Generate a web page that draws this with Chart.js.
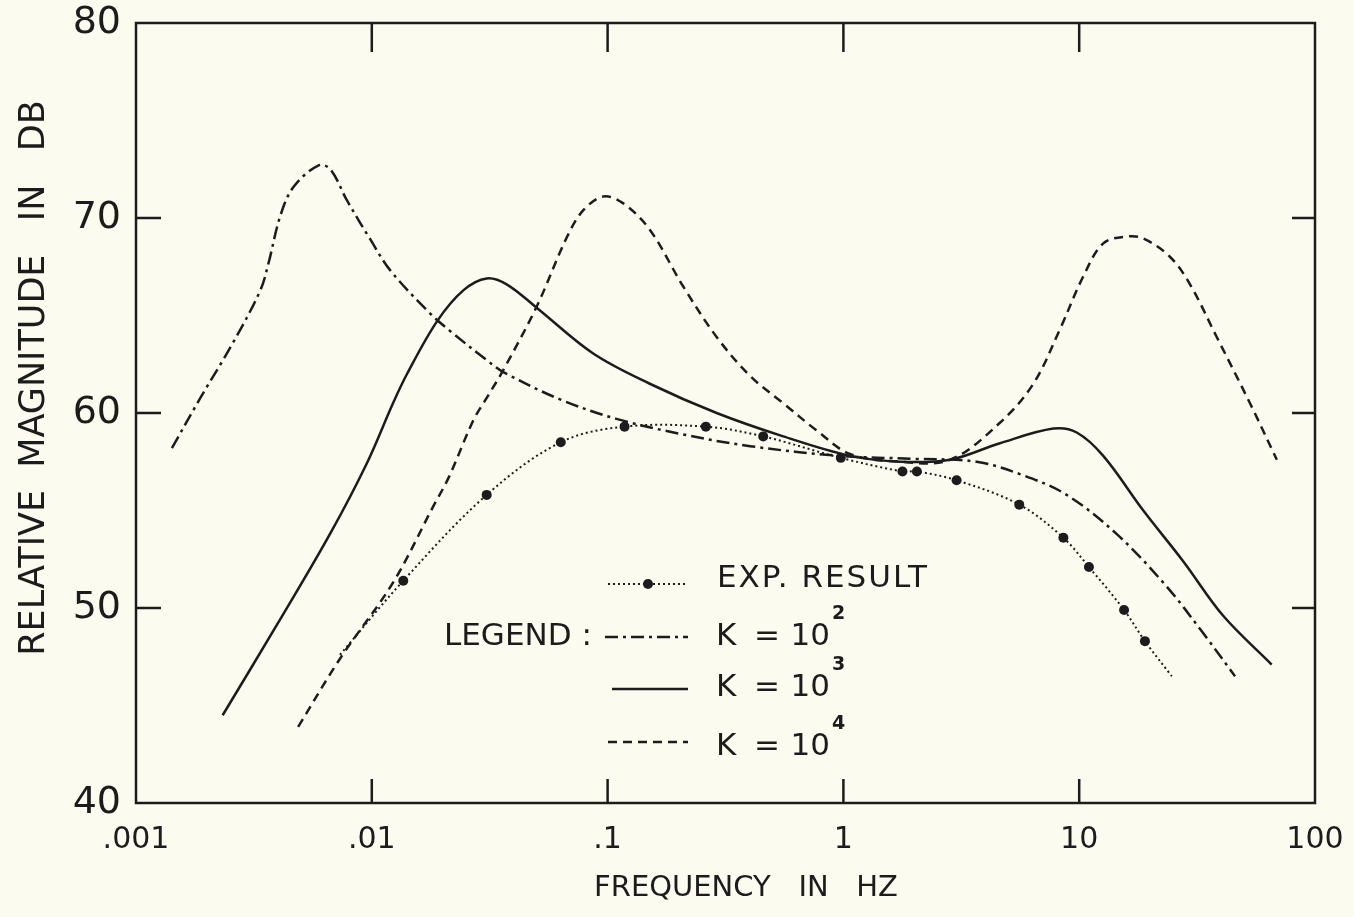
<!DOCTYPE html>
<html><head><meta charset="utf-8">
<script src="https://cdn.jsdelivr.net/npm/chart.js@4.4.1/dist/chart.umd.min.js"></script>
<style>
html,body{margin:0;padding:0;background:#fcfbef;}
#wrap{width:1354px;height:917px;position:relative;overflow:hidden;}
canvas{display:block;}
</style></head><body>
<div id="wrap"><canvas id="c" width="1354" height="917"></canvas></div>
<script>
// ---- tick labels ----
const xTickValues = [0.001, 0.01, 0.1, 1, 10, 100];
const xTickLabels = ['.001', '.01', '.1', '1', '10', '100'];
const yTickValues = [40, 50, 60, 70, 80];
const yTickLabels = ['40', '50', '60', '70', '80'];

// ---- EXP. RESULT (dotted with markers; first/last are curve ends) ----
const expFreq = [0.00733, 0.0136, 0.0307, 0.0633, 0.118, 0.261, 0.457, 0.975, 1.78, 2.05, 3.02, 5.57, 8.57, 11.0, 15.5, 19.0, 24.7];
const expDb   = [47.6,    51.4,   55.8,   58.5,   59.3,  59.3,  58.8,  57.7,  57.0, 57.0, 56.55, 55.3, 53.6, 52.1, 49.9, 48.3, 46.5];

// ---- K = 10^2 (dash-dot) ----
const k2Freq = [0.00142, 0.00188, 0.00255, 0.00337, 0.00365, 0.00409, 0.00466, 0.00595, 0.00667, 0.00785, 0.00986, 0.0120, 0.0177, 0.0215, 0.0308, 0.0361, 0.0628, 0.109, 0.209, 0.402, 0.968, 2.0, 3.67, 5.8, 8.85, 14.4, 23.5, 33.6, 45.8];
const k2Db   = [58.2,    60.8,    63.5,    66.3,    67.7,    70.1,    71.6,    72.7,    72.5,    70.9,    68.9,    67.3,   65.1,   64.2,   62.7,   62.1,   60.7,   59.7,  58.9,  58.3,  57.8,  57.65, 57.5, 56.8, 55.8, 53.8, 51.1, 48.7, 46.5];

// ---- K = 10^3 (solid) ----
const k3Freq = [0.00233, 0.00408, 0.00665, 0.00951, 0.0123, 0.0141, 0.0189, 0.0245, 0.0307, 0.0373, 0.050, 0.0869, 0.151, 0.290, 0.556, 1.067, 1.74, 2.83, 4.61, 7.77, 9.76, 12.65, 18.7, 27.6, 40.8, 65.5];
const k3Db   = [44.5,    49.4,    53.8,    57.4,    60.5,   62.0,   64.7,   66.3,   66.9,   66.6,   65.4,  63.05,  61.5,  60.0,  58.8,  57.8,  57.5, 57.6, 58.45, 59.2, 59.0, 57.8, 55.0, 52.4, 49.6, 47.1];

// ---- K = 10^4 (dashed) ----
const k4Freq = [0.00487, 0.00733, 0.0123, 0.0182, 0.0212, 0.0269, 0.0308, 0.0361, 0.050, 0.0671, 0.0789, 0.0959, 0.1166, 0.151, 0.209, 0.290, 0.402, 0.556, 0.771, 1.067, 1.74, 2.83, 4.61, 6.39, 8.29, 10.4, 12.65, 15.9, 18.7, 24.3, 29.5, 38.3, 53.0, 68.9];
const k4Db   = [43.9,    47.4,    51.3,   55.2,   56.7,   59.6,   60.8,   62.2,   65.45, 69.0,   70.4,   71.1,   70.75,  69.4,  66.5,  63.9,  61.9,  60.5,  59.1,  57.9,  57.5, 57.6, 59.5, 61.5, 64.3, 67.0, 68.7, 69.05, 68.95, 68.0, 66.6, 63.9, 60.5, 57.6];

const INK = '#1c1c1c';
const BG = '#fcfbef';
const FONT = "'DejaVu Sans', 'Liberation Sans', sans-serif";

const pts = (xs, ys) => xs.map((x, i) => ({x: x, y: ys[i]}));

const DASHDOT = [13, 5, 3, 5];
const DASHED = [9, 6];
const DOTTED = [2, 3];

const paper = {
  id: 'paper',
  beforeDraw(chart) {
    const c = chart.ctx;
    c.save();
    c.fillStyle = BG;
    c.fillRect(0, 0, chart.width, chart.height);
    c.restore();
  },
  afterDatasetsDraw(chart) {
    const c = chart.ctx, a = chart.chartArea;
    const xs = chart.scales.x, ys = chart.scales.y;
    c.save();
    c.strokeStyle = INK;
    c.lineWidth = 2.5;
    c.setLineDash([]);
    c.strokeRect(a.left, a.top, a.right - a.left, a.bottom - a.top);
    // inward ticks
    xTickValues.slice(1, -1).forEach(v => {
      const px = xs.getPixelForValue(v);
      c.beginPath();
      c.moveTo(px, a.bottom); c.lineTo(px, a.bottom - 24);
      c.moveTo(px, a.top); c.lineTo(px, a.top + 29);
      c.stroke();
    });
    yTickValues.slice(1, -1).forEach(v => {
      const py = ys.getPixelForValue(v);
      c.beginPath();
      c.moveTo(a.left, py); c.lineTo(a.left + 25, py);
      c.moveTo(a.right, py); c.lineTo(a.right - 23, py);
      c.stroke();
    });

    // axis titles
    c.fillStyle = INK;
    c.font = '29px ' + FONT;
    c.textAlign = 'center';
    c.textBaseline = 'middle';
    c.fillText('FREQUENCY   IN   HZ', 746, 888);
    c.save();
    c.translate(35, 378);
    c.rotate(-Math.PI / 2);
    c.font = '35px ' + FONT;
    c.fillText('RELATIVE  MAGNITUDE   IN   DB', 0, 0);
    c.restore();

    // legend
    const sample = (x0, x1, y, dash, w) => {
      c.beginPath();
      c.setLineDash(dash);
      c.lineWidth = w;
      c.moveTo(x0, y); c.lineTo(x1, y);
      c.stroke();
    };
    sample(608, 688, 584, DOTTED, 2);
    c.beginPath(); c.arc(648, 584, 5, 0, Math.PI * 2); c.fill();
    sample(605, 688, 637, DASHDOT, 2.5);
    sample(612, 688, 689, [], 2.5);
    sample(608, 688, 742, DASHED, 2.5);
    c.setLineDash([]);

    c.textAlign = 'left';
    c.textBaseline = 'middle';
    c.font = '31px ' + FONT;
    if ('letterSpacing' in c) c.letterSpacing = '2px';
    c.fillText('EXP. RESULT', 717, 579);
    if ('letterSpacing' in c) c.letterSpacing = '0px';
    c.fillText('LEGEND :', 444, 637);
    const kRow = (y, sup) => {
      c.font = '31px ' + FONT;
      c.textAlign = 'left';
      c.fillText('K', 716, y);
      c.textAlign = 'center';
      c.fillText('=', 767, y);
      c.textAlign = 'right';
      c.fillText('10', 830, y);
      c.textAlign = 'left';
      c.font = 'bold 19px ' + FONT;
      c.fillText(sup, 832, y - 23);
    };
    kRow(637, '2');
    kRow(688, '3');
    kRow(747, '4');
    c.restore();
  }
};

new Chart(document.getElementById('c'), {
  type: 'scatter',
  data: {
    datasets: [
      {
        label: 'EXP. RESULT',
        data: pts(expFreq, expDb),
        showLine: true,
        borderColor: INK,
        borderWidth: 2,
        borderDash: DOTTED,
        tension: 0.35,
        pointRadius: ctx => (ctx.dataIndex === 0 || ctx.dataIndex === expFreq.length - 1) ? 0 : 5,
        pointBackgroundColor: INK,
        pointBorderWidth: 0
      },
      {
        label: 'K = 10^2',
        data: pts(k2Freq, k2Db),
        showLine: true,
        borderColor: INK,
        borderWidth: 2.5,
        borderDash: DASHDOT,
        tension: 0.35,
        pointRadius: 0
      },
      {
        label: 'K = 10^3',
        data: pts(k3Freq, k3Db),
        showLine: true,
        borderColor: INK,
        borderWidth: 2.5,
        tension: 0.35,
        pointRadius: 0
      },
      {
        label: 'K = 10^4',
        data: pts(k4Freq, k4Db),
        showLine: true,
        borderColor: INK,
        borderWidth: 2.5,
        borderDash: DASHED,
        tension: 0.35,
        pointRadius: 0
      }
    ]
  },
  options: {
    responsive: false,
    animation: false,
    devicePixelRatio: 1,
    layout: { padding: { left: 0, right: 39, top: 23, bottom: 0 } },
    plugins: { legend: { display: false }, tooltip: { enabled: false } },
    scales: {
      x: {
        type: 'logarithmic',
        min: 0.001, max: 100,
        afterBuildTicks: s => { s.ticks = xTickValues.map(v => ({ value: v })); },
        afterFit: s => { s.height = 114; s.paddingLeft = 0; s.paddingRight = 0; },
        ticks: {
          callback: v => { const i = xTickValues.indexOf(v); return i >= 0 ? xTickLabels[i] : ''; },
          color: INK,
          font: { family: FONT, size: 30 },
          padding: 19,
          autoSkip: false,
          maxRotation: 0
        },
        grid: { display: false, drawTicks: false },
        border: { display: false }
      },
      y: {
        type: 'linear',
        min: 40, max: 80,
        afterBuildTicks: s => { s.ticks = yTickValues.map(v => ({ value: v })); },
        afterFit: s => { s.width = 136; s.paddingTop = 0; s.paddingBottom = 0; },
        ticks: {
          callback: v => { const i = yTickValues.indexOf(v); return i >= 0 ? yTickLabels[i] : ''; },
          color: INK,
          font: { family: FONT, size: 38 },
          padding: 15
        },
        grid: { display: false, drawTicks: false },
        border: { display: false }
      }
    }
  },
  plugins: [paper]
});
</script>
</body></html>
